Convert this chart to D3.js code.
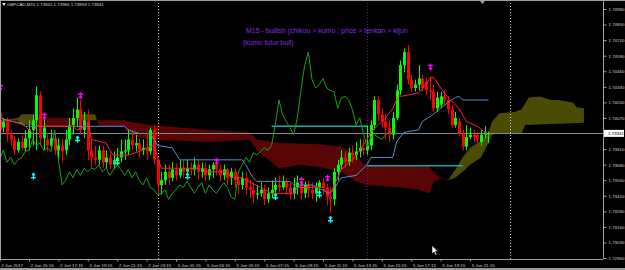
<!DOCTYPE html>
<html>
<head>
<meta charset="utf-8">
<script src="https://cdn.jsdelivr.net/npm/d3@7.9.0/dist/d3.min.js"></script>
<style>
  html, body { margin: 0; padding: 0; background: #000; }
  svg { display: block; font-family: "Liberation Sans", Arial, sans-serif; }
</style>
</head>
<body>
<svg id="chart" width="625" height="270"></svg>
<script>
// ---- data ----
const symbolLine = 'GBPCAD,M15  1.73941 1.73956 1.73859 1.73941';
const signalLines = ['M15 - bullish (chikou > kumo ; price > tenkan > kijun', '(kumo futur bull)'];

const timeTicks = [0, 8, 16, 24, 32, 40, 48, 56, 64, 72, 80, 88, 96, 104, 112, 120, 128];
const timeLabels = ['2 Jun 2017', '2 Jun 15:15', '2 Jun 17:15', '2 Jun 19:15', '2 Jun 21:15', '2 Jun 23:15',
  '5 Jun 01:15', '5 Jun 03:15', '5 Jun 05:15', '5 Jun 07:15', '5 Jun 09:15', '5 Jun 11:15',
  '5 Jun 13:15', '5 Jun 15:15', '5 Jun 17:15', '5 Jun 19:15', '5 Jun 21:15'];
const priceTicks = [1.74980, 1.74850, 1.74720, 1.74590, 1.74460, 1.74330, 1.74200, 1.74070,
  1.73810, 1.73680, 1.73550, 1.73420, 1.73290, 1.73160, 1.73030, 1.72900];
const bidPrice = 1.73941;

const opens = [
  1.7405, 1.7399, 1.7404, 1.7393, 1.7389, 1.7380, 1.7387, 1.7382, 1.7390, 1.7397,
  1.7405, 1.7426, 1.7390, 1.7389, 1.7384, 1.7390, 1.7380, 1.7384, 1.7380, 1.7389,
  1.7401, 1.7407, 1.7414, 1.7397, 1.7405, 1.7380, 1.7374, 1.7372, 1.7380, 1.7370,
  1.7374, 1.7368, 1.7372, 1.7374, 1.7379, 1.7380, 1.7389, 1.7384, 1.7386, 1.7380,
  1.7382, 1.7379, 1.7397, 1.7372, 1.7351, 1.7355, 1.7362, 1.7357, 1.7364, 1.7359,
  1.7365, 1.7362, 1.7365, 1.7364, 1.7368, 1.7362, 1.7365, 1.7359, 1.7364, 1.7368,
  1.7364, 1.7359, 1.7364, 1.7357, 1.7362, 1.7355, 1.7351, 1.7357, 1.7349, 1.7347,
  1.7343, 1.7344, 1.7347, 1.7339, 1.7344, 1.7347, 1.7351, 1.7349, 1.7354, 1.7349,
  1.7344, 1.7349, 1.7353, 1.7344, 1.7351, 1.7347, 1.7344, 1.7349, 1.7353, 1.7349,
  1.7341, 1.7339, 1.7362, 1.7368, 1.7374, 1.7370, 1.7378, 1.7376, 1.7379, 1.7382,
  1.7380, 1.7384, 1.7401, 1.7422, 1.7410, 1.7404, 1.7399, 1.7393, 1.7407, 1.7430,
  1.7451, 1.7462, 1.7439, 1.7432, 1.7435, 1.7440, 1.7437, 1.7430, 1.7429, 1.7415,
  1.7418, 1.7425, 1.7422, 1.7414, 1.7401, 1.7404, 1.7394, 1.7383, 1.7391, 1.7393,
  1.7393, 1.7387, 1.7393, 1.73941];
const highs = [
  1.7412, 1.7407, 1.7407, 1.7397, 1.7392, 1.7390, 1.7393, 1.7397, 1.7405, 1.7410,
  1.7433, 1.7429, 1.7407, 1.7395, 1.7397, 1.7394, 1.7390, 1.7389, 1.7397, 1.7407,
  1.7415, 1.7424, 1.7422, 1.7412, 1.7414, 1.7389, 1.7384, 1.7384, 1.7384, 1.7380,
  1.7379, 1.7379, 1.7382, 1.7389, 1.7389, 1.7397, 1.7397, 1.7393, 1.7390, 1.7389,
  1.7393, 1.7399, 1.7401, 1.7374, 1.7362, 1.7368, 1.7368, 1.7370, 1.7369, 1.7372,
  1.7372, 1.7372, 1.7370, 1.7374, 1.7372, 1.7370, 1.7370, 1.7368, 1.7370, 1.7370,
  1.7368, 1.7368, 1.7365, 1.7365, 1.7365, 1.7359, 1.7362, 1.7362, 1.7355, 1.7353,
  1.7351, 1.7353, 1.7351, 1.7349, 1.7355, 1.7357, 1.7359, 1.7359, 1.7357, 1.7353,
  1.7357, 1.7359, 1.7354, 1.7354, 1.7355, 1.7353, 1.7353, 1.7355, 1.7357, 1.7352,
  1.7349, 1.7365, 1.7372, 1.7380, 1.7379, 1.7382, 1.7384, 1.7387, 1.7389, 1.7389,
  1.7401, 1.7405, 1.7425, 1.7425, 1.7415, 1.7410, 1.7405, 1.7412, 1.7435, 1.7455,
  1.7465, 1.7468, 1.7443, 1.7439, 1.7451, 1.7443, 1.7440, 1.7442, 1.7435, 1.7429,
  1.7429, 1.7430, 1.7425, 1.7418, 1.7412, 1.7407, 1.7397, 1.7401, 1.7399, 1.7397,
  1.7395, 1.7397, 1.7400, 1.73956];
const lows = [
  1.7393, 1.7395, 1.7387, 1.7384, 1.7376, 1.7378, 1.7380, 1.7379, 1.7380, 1.7384,
  1.7380, 1.7384, 1.7380, 1.7379, 1.7380, 1.7376, 1.7372, 1.7370, 1.7376, 1.7384,
  1.7393, 1.7399, 1.7393, 1.7390, 1.7372, 1.7365, 1.7368, 1.7368, 1.7365, 1.7365,
  1.7364, 1.7364, 1.7368, 1.7370, 1.7372, 1.7376, 1.7380, 1.7379, 1.7374, 1.7376,
  1.7372, 1.7376, 1.7368, 1.7343, 1.7343, 1.7351, 1.7351, 1.7354, 1.7355, 1.7357,
  1.7357, 1.7359, 1.7359, 1.7359, 1.7355, 1.7357, 1.7354, 1.7355, 1.7357, 1.7359,
  1.7354, 1.7355, 1.7351, 1.7351, 1.7349, 1.7343, 1.7347, 1.7343, 1.7340, 1.7336,
  1.7339, 1.7341, 1.7334, 1.7336, 1.7340, 1.7343, 1.7345, 1.7347, 1.7343, 1.7339,
  1.7339, 1.7343, 1.7339, 1.7340, 1.7340, 1.7339, 1.7337, 1.7340, 1.7343, 1.7334,
  1.7328, 1.7334, 1.7355, 1.7364, 1.7365, 1.7367, 1.7370, 1.7372, 1.7374, 1.7376,
  1.7376, 1.7380, 1.7397, 1.7405, 1.7399, 1.7389, 1.7387, 1.7389, 1.7405, 1.7426,
  1.7445, 1.7435, 1.7429, 1.7429, 1.7430, 1.7429, 1.7426, 1.7422, 1.7412, 1.7412,
  1.7415, 1.7418, 1.7410, 1.7399, 1.7399, 1.7392, 1.7380, 1.7380, 1.7389, 1.7387,
  1.7386, 1.7384, 1.7390, 1.73859];
const closes = [
  1.7397, 1.7404, 1.7393, 1.7389, 1.7380, 1.7387, 1.7382, 1.7390, 1.7397, 1.7405,
  1.7426, 1.7390, 1.7399, 1.7384, 1.7390, 1.7380, 1.7384, 1.7379, 1.7389, 1.7401,
  1.7407, 1.7414, 1.7397, 1.7405, 1.7380, 1.7374, 1.7372, 1.7380, 1.7370, 1.7374,
  1.7368, 1.7372, 1.7374, 1.7379, 1.7380, 1.7389, 1.7384, 1.7386, 1.7380, 1.7382,
  1.7379, 1.7397, 1.7372, 1.7351, 1.7355, 1.7362, 1.7357, 1.7364, 1.7359, 1.7365,
  1.7362, 1.7365, 1.7364, 1.7368, 1.7362, 1.7365, 1.7359, 1.7364, 1.7368, 1.7364,
  1.7359, 1.7364, 1.7357, 1.7362, 1.7355, 1.7351, 1.7357, 1.7349, 1.7347, 1.7343,
  1.7344, 1.7347, 1.7339, 1.7344, 1.7347, 1.7351, 1.7349, 1.7354, 1.7349, 1.7344,
  1.7349, 1.7353, 1.7344, 1.7351, 1.7347, 1.7344, 1.7349, 1.7353, 1.7349, 1.7341,
  1.7339, 1.7362, 1.7368, 1.7374, 1.7370, 1.7378, 1.7376, 1.7379, 1.7382, 1.7380,
  1.7384, 1.7401, 1.7422, 1.7410, 1.7404, 1.7399, 1.7393, 1.7407, 1.7430, 1.7451,
  1.7462, 1.7439, 1.7432, 1.7435, 1.7440, 1.7432, 1.7430, 1.7429, 1.7415, 1.7424,
  1.7425, 1.7422, 1.7414, 1.7401, 1.7407, 1.7394, 1.7383, 1.7391, 1.7393, 1.7391,
  1.7389, 1.7393, 1.7395, 1.73941];

// [bar, price] vertices
const tenkan = [[0,1.7414],[1,1.7405],[6,1.7403],[8,1.7397],[9,1.7394],[10,1.7400],[20,1.7400],[21,1.7397],
  [23,1.7400],[24,1.7403],[25,1.7389],[29,1.7386],[30,1.7380],[31,1.7376],[35,1.7376],[38,1.7379],[41,1.7383],
  [42,1.7384],[43,1.7374],[44,1.7365],[55,1.7365],[56,1.7362],[62,1.7362],[63,1.7357],[66,1.7357],[67,1.7355],
  [71,1.7349],[74,1.7344],[80,1.7344],[81,1.7349],[88,1.7349],[89,1.7344],[90,1.7344],[92,1.7357],[93,1.7364],
  [96,1.7372],[98,1.7380],[100,1.7389],[101,1.7395],[103,1.7401],[105,1.7407],[107,1.7415],[108,1.7422],
  [109,1.7425],[111,1.7426],[114,1.7428],[116,1.7435],[117,1.7440],[118,1.7441],[119,1.7437],[120,1.7432],
  [122,1.7424],[125,1.7415],[127,1.7404],[130,1.7400],[132,1.7395],[133,1.7393]];
const kijun = [[0,1.7407],[1,1.7406],[6,1.7402],[7,1.7400],[34,1.7400],[35,1.7397],[38,1.7394],[41,1.7394],
  [43,1.7384],[47,1.7382],[49,1.7372],[66,1.7372],[67,1.7368],[68,1.7362],[69,1.7357],[70,1.7354],[79,1.7354],
  [80,1.7351],[85,1.7351],[89,1.7345],[90,1.7345],[91,1.7347],[92,1.7353],[93,1.7357],[97,1.7359],[99,1.7365],
  [100,1.7368],[101,1.7374],[107,1.7374],[108,1.7387],[110,1.7395],[114,1.7397],[115,1.7404],[118,1.7410],
  [120,1.7415],[122,1.7420],[124,1.7424],[125,1.7425],[126,1.7422],[133,1.7422]];
const senkouA = [[0,1.7405],[5,1.7407],[6,1.7410],[9,1.7410],[10,1.7400],[16,1.7400],[20,1.7401],[22,1.7410],
  [26,1.7410],[27,1.7400],[34,1.7400],[35,1.7393],[41,1.7389],[57,1.7387],[68,1.7389],[70,1.7380],[76,1.7365],
  [82,1.7368],[87,1.7366],[93,1.7362],[97,1.7354],[100,1.7351],[109,1.7349],[114,1.7347],[117,1.7344],
  [118,1.7353],[119,1.7355],[120,1.7357],[122,1.7355],[124,1.7364],[126,1.7374],[128,1.7382],[131,1.7388],
  [133,1.7394],[134,1.7404],[136,1.7411],[140,1.7412],[142,1.7414],[144,1.7424],[147,1.7425],[150,1.7422],
  [152,1.7422],[156,1.7420],[157,1.7416],[159,1.7415]];
const senkouB = [[0,1.7404],[5,1.7405],[6,1.7401],[9,1.7401],[10,1.7407],[16,1.7407],[20,1.7407],[22,1.7405],
  [26,1.7405],[27,1.7405],[34,1.7405],[35,1.7404],[41,1.7401],[57,1.7397],[68,1.7395],[70,1.7389],[76,1.7386],
  [87,1.7385],[93,1.7383],[97,1.7376],[99,1.7369],[100,1.7368],[117,1.7366],[119,1.7359],[122,1.7355],
  [124,1.7357],[126,1.7362],[128,1.7368],[131,1.7374],[132,1.7380],[133,1.7386],[134,1.7393],[136,1.7394],
  [142,1.7394],[143,1.7401],[159,1.7403]];

const upFractals = [[0,1.7433],[12,1.7409],[22,1.7426],[59,1.7371],[82,1.7355],[89,1.7357],[117,1.7450]];
const downFractals = [[9,1.7358],[21,1.7389],[32,1.7370],[51,1.7358],[75,1.7341],[87,1.7343],[90,1.7322]];

// [from bar, to bar, price]
const levelLines = [[74, 100, 1.7400], [100, 126, 1.7367]];
const daySeparators = [43, 139];
const signalBar = 100;

// ---- drawing ----
const plotRight = 603, plotBottom = 259;
const svg = d3.select('#chart');
const x = d3.scaleLinear().domain([0, 133]).range([-0.4, 488.4]);
const y = d3.scaleLinear().domain([1.72900, 1.74980]).range([258, 9]);
const px = i => Math.round(x(i));

svg.append('rect').attr('width', 625).attr('height', 270).attr('fill', '#000');

const defs = svg.append('defs');
defs.append('clipPath').attr('id', 'plot')
  .append('rect').attr('width', plotRight).attr('height', plotBottom);

const areaBelow = d3.area().x(d => x(d[0])).y0(plotBottom).y1(d => y(d[1]));
const areaAbove = d3.area().x(d => x(d[0])).y0(0).y1(d => y(d[1]));
defs.append('clipPath').attr('id', 'belowA').append('path').attr('d', areaBelow(senkouA));
defs.append('clipPath').attr('id', 'belowB').append('path').attr('d', areaBelow(senkouB));

const plot = svg.append('g').attr('clip-path', 'url(#plot)');

// kumo
plot.append('g').attr('clip-path', 'url(#belowA)')
  .append('path').attr('d', areaAbove(senkouB)).attr('fill', '#4b4b06');
plot.append('g').attr('clip-path', 'url(#belowB)')
  .append('path').attr('d', areaAbove(senkouA)).attr('fill', '#5a0505');

// separators
plot.selectAll('line.sep').data(daySeparators).enter().append('line')
  .attr('x1', d => px(d) + 0.5).attr('x2', d => px(d) + 0.5)
  .attr('y1', 0).attr('y2', plotBottom)
  .attr('stroke', '#c8c8c8').attr('stroke-dasharray', '1,2');
plot.append('line')
  .attr('x1', px(signalBar) + 0.5).attr('x2', px(signalBar) + 0.5)
  .attr('y1', 0).attr('y2', plotBottom)
  .attr('stroke', '#6a1a7a').attr('stroke-dasharray', '1,2');

// bid line
plot.append('line')
  .attr('x1', 0).attr('x2', plotRight)
  .attr('y1', Math.round(y(bidPrice)) + 0.5).attr('y2', Math.round(y(bidPrice)) + 0.5)
  .attr('stroke', '#7d8a99');

// level lines
plot.selectAll('line.lvl').data(levelLines).enter().append('line')
  .attr('x1', d => x(d[0])).attr('x2', d => x(d[1]))
  .attr('y1', d => y(d[2])).attr('y2', d => y(d[2]))
  .attr('stroke', '#1fa8a8').attr('stroke-width', 1.6);

// candles
const bars = d3.range(closes.length);
const candle = plot.append('g').selectAll('g').data(bars).enter().append('g');
const col = i => closes[i] >= opens[i] ? '#00ff00' : '#ff0000';
candle.append('line')
  .attr('x1', i => px(i) + 0.5).attr('x2', i => px(i) + 0.5)
  .attr('y1', i => y(highs[i])).attr('y2', i => y(lows[i]))
  .attr('stroke', col);
candle.append('rect')
  .attr('x', i => px(i) - 1).attr('width', 3)
  .attr('y', i => y(Math.max(opens[i], closes[i])))
  .attr('height', i => Math.max(1, Math.abs(y(opens[i]) - y(closes[i]))))
  .attr('fill', col);

// ichimoku lines
const line = d3.line().x(d => x(d[0])).y(d => y(d[1]));
const chikou = closes.slice(26).map((c, i) => [i, c]);
plot.append('path').attr('d', line(chikou)).attr('fill', 'none').attr('stroke', '#1f9f1f');
plot.append('path').attr('d', line(kijun)).attr('fill', 'none').attr('stroke', '#4f8fd2');
plot.append('path').attr('d', line(tenkan)).attr('fill', 'none').attr('stroke', '#ff1f3f');

// fractals
plot.selectAll('path.up').data(upFractals).enter().append('path')
  .attr('transform', d => `translate(${px(d[0]) + 0.5},${y(d[1])})`)
  .attr('d', 'M0,-3V3M-2.5,-1H2.5M-1.5,1.5L0,3L1.5,1.5')
  .attr('fill', 'none').attr('stroke', '#ff00ff').attr('stroke-width', 1.4);
plot.selectAll('path.dn').data(downFractals).enter().append('path')
  .attr('transform', d => `translate(${px(d[0]) + 0.5},${y(d[1])})`)
  .attr('d', 'M0,-3V3M-2.5,1H2.5M-1.5,-1.5L0,-3L1.5,-1.5')
  .attr('fill', 'none').attr('stroke', '#00ffff').attr('stroke-width', 1.4);

// signal text
svg.append('text').attr('x', 246).attr('y', 33)
  .attr('font-size', 7).attr('fill', '#8a2be2').text(signalLines[0]);
svg.append('text').attr('x', 243).attr('y', 44.5)
  .attr('font-size', 7).attr('fill', '#8a2be2').text(signalLines[1]);

// header
svg.append('path').attr('d', 'M2,3H6L4,6Z').attr('fill', '#d0d0d0');
svg.append('text').attr('x', 7).attr('y', 6)
  .attr('font-size', 4.4).attr('fill', '#d8d8d8').text(symbolLine);

// frame
svg.append('rect').attr('x', 0).attr('y', 0).attr('width', 625).attr('height', 1).attr('fill', '#a0a0a0');
svg.append('rect').attr('x', 0).attr('y', 0).attr('width', 1).attr('height', plotBottom).attr('fill', '#a0a0a0');
svg.append('path').attr('d', 'M480,1H485L482.5,4Z').attr('fill', '#9a9aa8');

// price axis
const yAxis = d3.axisRight(y).tickValues(priceTicks).tickFormat(d3.format('.5f'))
  .tickSize(3).tickPadding(2);
const ya = svg.append('g').attr('transform', `translate(${plotRight + 0.5},0)`).call(yAxis);
ya.select('.domain').attr('stroke', '#a0a0a0').attr('d', `M0,0V${plotBottom}`);
ya.selectAll('.tick line').attr('stroke', '#a0a0a0');
ya.selectAll('.tick text').attr('fill', '#d0d0d0').attr('font-size', 4.4)
  .attr('font-family', '"Liberation Sans", Arial, sans-serif');

// current price tag
const by = y(bidPrice);
svg.append('rect').attr('x', plotRight + 1).attr('y', by - 3.5).attr('width', 20).attr('height', 7).attr('fill', '#fff');
svg.append('text').attr('x', plotRight + 5).attr('y', by + 1.5)
  .attr('font-size', 4.4).attr('fill', '#000').text(d3.format('.5f')(bidPrice));

// time axis
const xAxis = d3.axisBottom(x).tickValues(timeTicks).tickFormat((d, i) => timeLabels[i])
  .tickSize(2).tickPadding(2);
const xa = svg.append('g').attr('transform', `translate(0,${plotBottom + 0.5})`).call(xAxis);
xa.select('.domain').attr('stroke', '#a0a0a0').attr('d', `M0,0H${plotRight}`);
xa.selectAll('.tick line').attr('stroke', '#a0a0a0');
xa.selectAll('.tick text').attr('fill', '#d0d0d0').attr('font-size', 4.4)
  .attr('text-anchor', 'start').attr('dx', 1.2)
  .attr('font-family', '"Liberation Sans", Arial, sans-serif');

svg.append('rect').attr('x', 0).attr('y', 268).attr('width', 625).attr('height', 2).attr('fill', '#9a9a9a');

// mouse pointer
svg.append('path').attr('d', 'M432,245.5V254L434,252L435.6,255.2L437,254.5L435.4,251.4H438Z')
  .attr('fill', '#fff').attr('stroke', '#000').attr('stroke-width', 0.6);
</script>
</body>
</html>
